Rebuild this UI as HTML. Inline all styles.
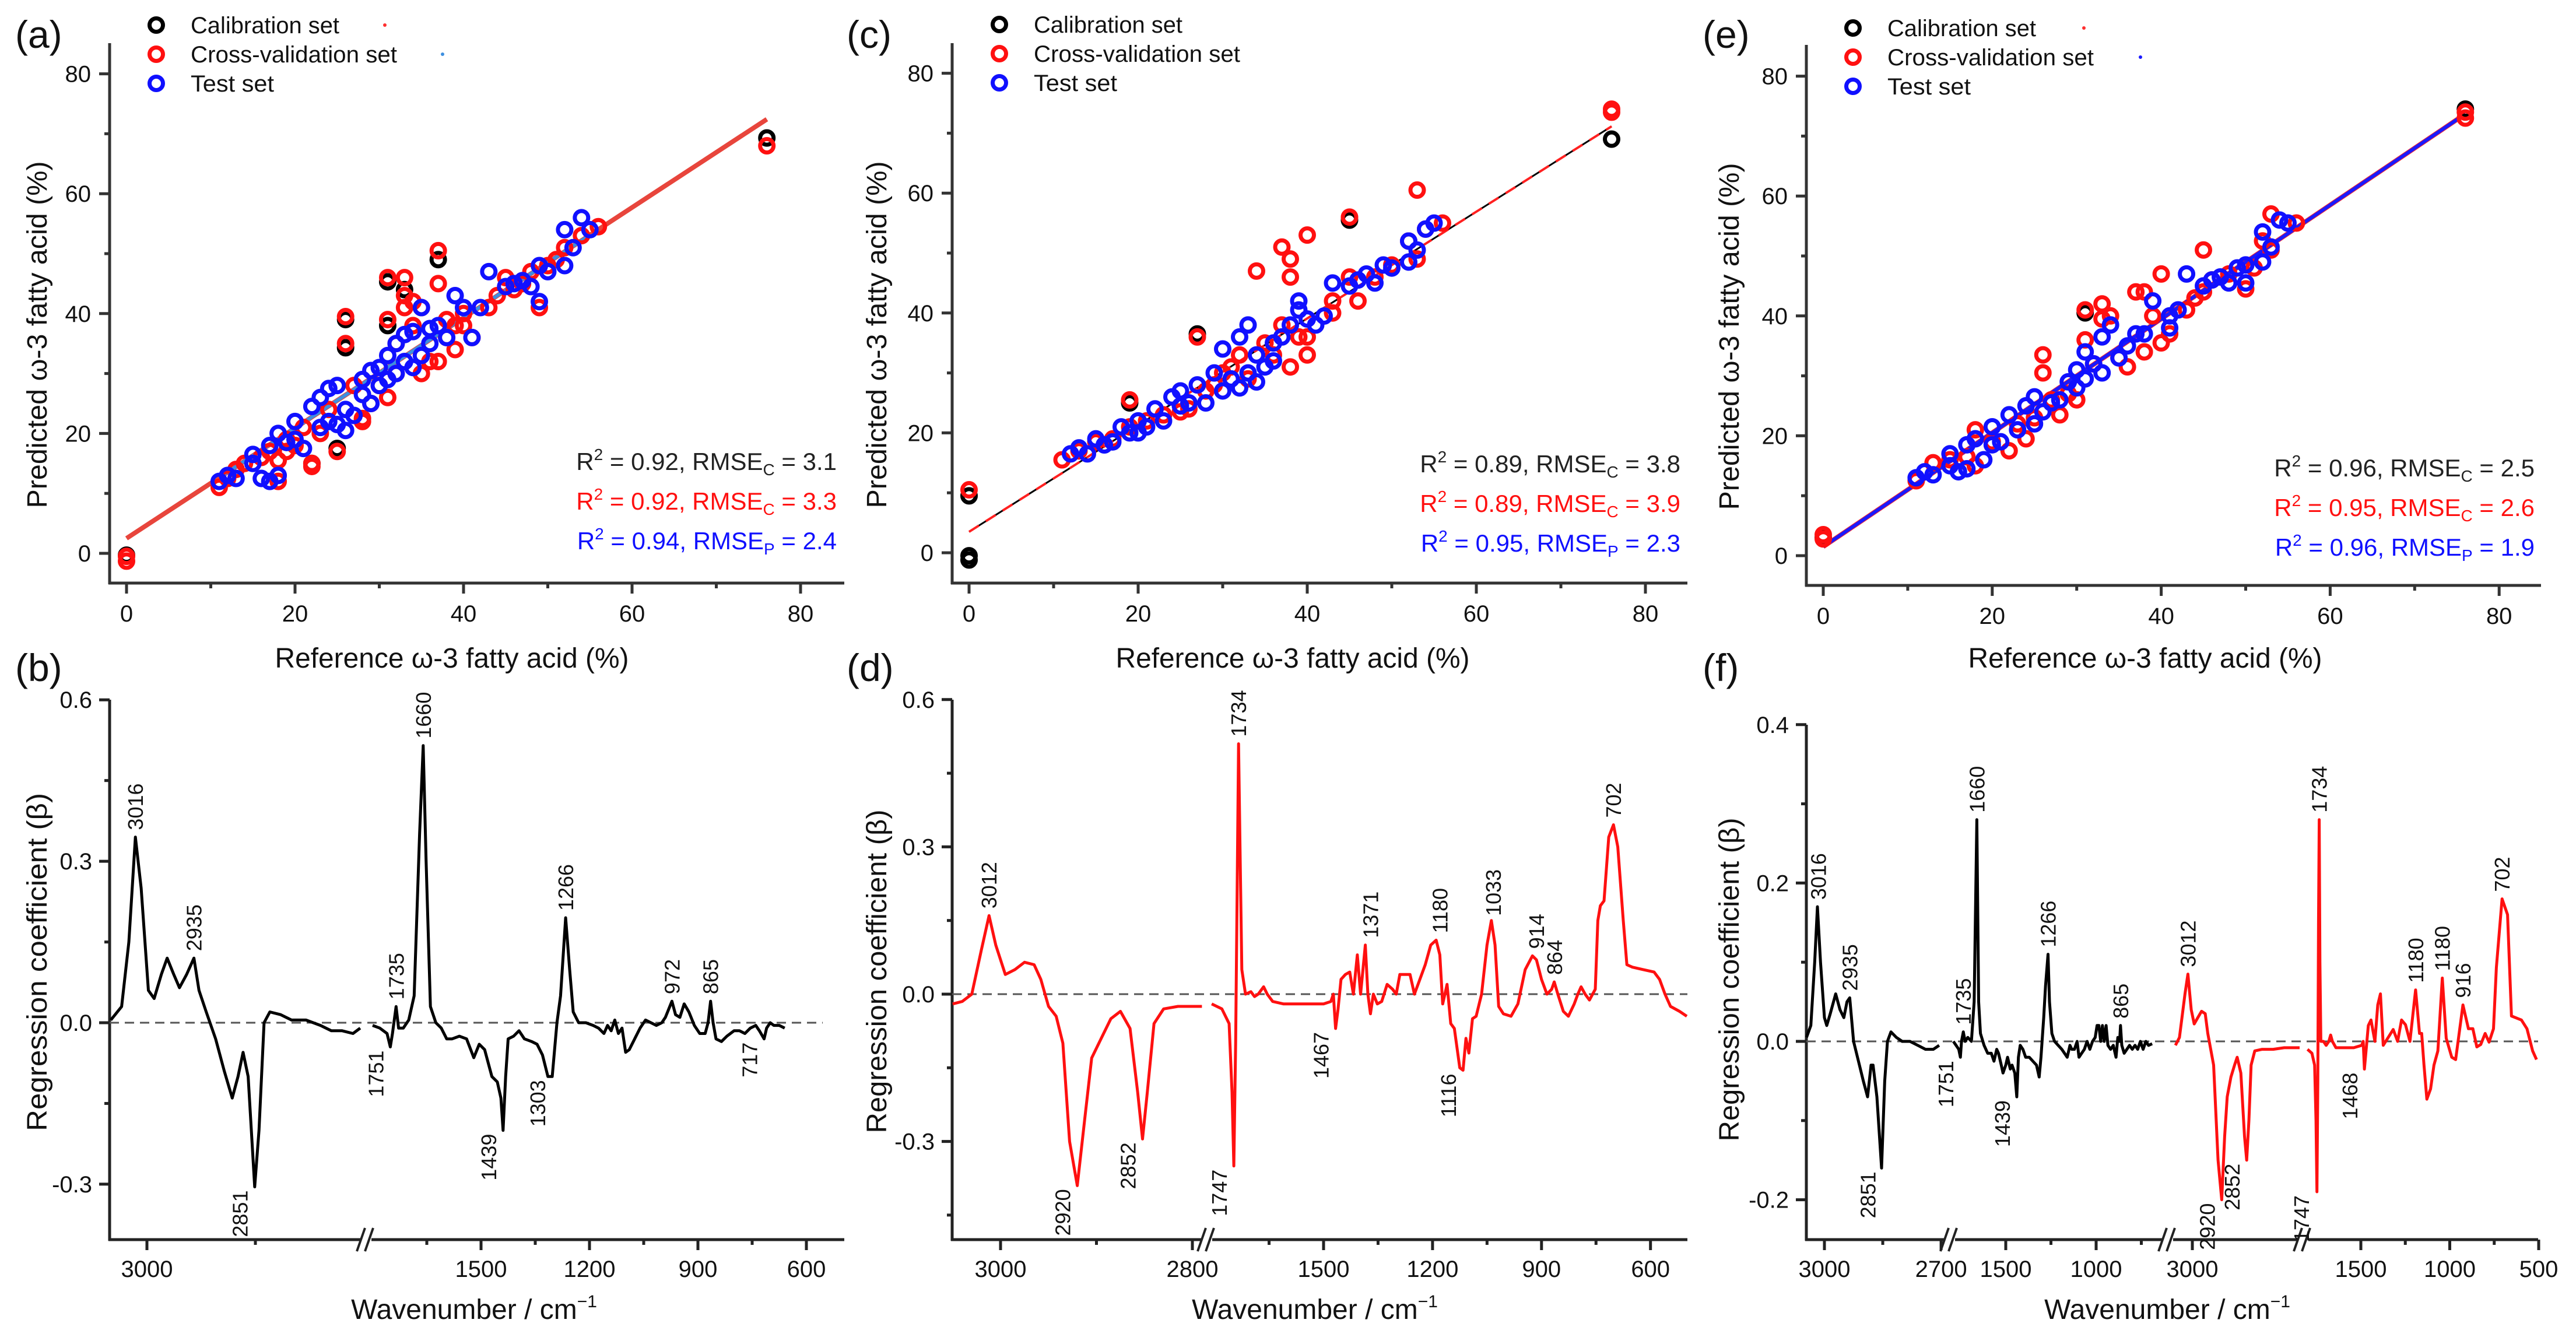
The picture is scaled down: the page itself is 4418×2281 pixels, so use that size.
<!DOCTYPE html>
<html><head><meta charset="utf-8"><style>
html,body{margin:0;padding:0;background:#fff;overflow:hidden;}
svg{display:block;font-family:"Liberation Sans",Arial,sans-serif;}
</style></head>
<body>
<svg id="chart" xmlns="http://www.w3.org/2000/svg" width="4418" height="2281" viewBox="0 0 4418 2281">
<rect x="0" y="0" width="4418" height="2281" fill="#fff"/>
</svg>
<script>
// ---------------- DATA ----------------
const aCal = [[0,-0.3],[22,15],[25,17.5],[26,34.3],[26,39],[31,45.3],[31,38],[33,44],[37,49],[76,69.3]];
const aCV = [[0,-0.5],[0,-1.3],[11,11],[12,12.5],[13,14],[14,15],[16,16],[17,17],[18,15.5],[18,12],[19,17],[19,19],[20,18],[21,21],[22,15],[22,14.5],[23,20],[24,24],[25,17],[26,35],[26,39.5],[27,28],[28,22],[28,22.5],[29,25],[30,28],[31,46],[31,39],[31,26],[32,30],[32,35],[33,43],[33,46],[33,41],[34,38],[34,42],[35,41],[35,30],[36,32],[37,45],[37,50.5],[37,32],[38,36],[38,39],[39,38],[39,34],[40,40],[40,38],[41,36],[43,41],[44,43],[45,46],[46,44],[47,45],[48,47],[49,41],[50,48],[51,49],[52,51],[54,53],[56,54.5],[76,68]];
const aTest = [[11,12],[12,13],[13,12.5],[15,16.5],[15,15],[16,12.5],[17,12],[17,18],[18,20],[18,13],[19,18.5],[20,22],[20,19],[21,17.5],[22,24.5],[23,21],[23,26],[24,27.5],[24,22],[25,28],[25,21.5],[26,20.5],[26,24],[27,23],[28,29],[28,26.5],[29,30.5],[29,25],[30,31],[30,28],[31,33],[31,29],[32,30],[32,35],[33,36.5],[33,32],[34,31],[34,37],[35,41],[35,33],[36,35],[36,37.5],[37,38],[38,36],[39,43],[40,41],[41,36],[42,41],[43,47],[45,44.5],[46,45],[47,45.5],[48,44.5],[49,42],[49,48],[50,47],[52,48],[52,54],[53,51],[54,56],[55,54]];
const aFit = [2.5, 0.92];
const cCal = [[0,-0.5],[0,-1.2],[0,9.5],[19,25],[27,36.5],[45,55.5],[76,69]];
const cCV = [[0,10.5],[11,15.5],[13,17],[15,18.5],[17,19],[19,25.5],[19,21],[21,22],[23,23],[25,23.5],[26,24],[27,36],[28,27],[29,28],[30,30],[31,31],[32,33],[33,29],[34,47],[35,35],[36,33],[37,51],[37,38],[38,49],[38,31],[38,46],[39,36],[40,53],[40,33],[40,36],[43,42],[43,40],[45,56],[45,46],[46,42],[48,46],[50,48],[52,52],[53,60.5],[53,49],[54,54],[56,55],[76,73.5],[76,74]];
const cTest = [[12,16.5],[13,17.5],[14,16.5],[15,19],[16,18],[17,18.5],[18,21],[19,20],[20,22],[20,20],[21,21],[22,24],[23,22],[24,26],[25,27],[25,24.5],[26,25],[27,28],[28,25],[29,30],[30,34],[30,27],[31,29],[32,36],[32,27.5],[33,38],[33,30],[34,33],[34,28.5],[35,31],[36,35],[36,32],[37,36],[38,38],[39,42],[39,40.5],[40,39],[41,38],[42,39.5],[43,45],[45,44.5],[46,45.5],[47,46.5],[48,45],[49,48],[50,47.5],[52,48.5],[52,52],[53,50.5],[54,54],[55,55]];
const cFit = [3.5, 0.89];
const eCal = [[0,3],[31,40.5],[76,74.5]];
const eCV = [[0,3.5],[0,2.8],[11,12.5],[13,15.5],[15,16],[17,16.5],[18,15],[18,21],[20,19],[22,17.5],[23,22],[24,19.5],[25,23],[26,33.5],[26,30.5],[27,26],[28,23.5],[29,27],[30,26],[31,41],[31,36],[32,32],[33,39.5],[33,42],[34,40],[35,33],[36,31.5],[37,44],[38,44],[38,34],[39,40],[40,47],[40,35.5],[41,37],[43,41],[44,43],[45,51],[45,44],[46,46],[48,47],[50,44.5],[51,48],[52,52.5],[53,57],[53,51],[56,55.5],[76,73],[76,74]];
const eTest = [[11,13],[12,14],[13,13.5],[15,17],[15,15],[16,14],[17,14.5],[17,18.5],[18,19.5],[19,16],[20,18.5],[20,21.5],[21,19],[22,23.5],[23,21],[24,25],[25,26.5],[25,22],[26,24],[27,25.5],[28,26],[29,29],[30,28],[30,31],[31,34],[31,29.5],[32,32],[33,36.5],[33,30.5],[34,38.5],[35,33],[36,35],[37,37],[38,37],[39,42.5],[41,38],[41,40],[42,41],[43,47],[45,45],[46,46],[47,46.5],[48,45.5],[49,48],[50,45.5],[50,48.5],[52,49],[52,54],[53,51.5],[54,56],[55,55.5]];
const eFit = [1.5, 0.95];
const scatterTicks = [0,20,40,60,80];

const bSeg1 = [[3050,0.005],[3035,0.03],[3025,0.15],[3016,0.345],[3008,0.25],[2998,0.06],[2990,0.045],[2980,0.09],[2972,0.12],[2963,0.09],[2955,0.065],[2945,0.09],[2935,0.12],[2928,0.06],[2918,0.02],[2905,-0.03],[2893,-0.09],[2882,-0.14],[2874,-0.1],[2867,-0.055],[2860,-0.1],[2851,-0.305],[2845,-0.2],[2838,0.0],[2830,0.02],[2815,0.015],[2800,0.005],[2780,0.005],[2760,-0.005],[2745,-0.015],[2730,-0.015],[2715,-0.02],[2705,-0.01]];
const bSeg2 = [[1800,-0.005],[1780,-0.01],[1760,-0.02],[1751,-0.045],[1745,-0.02],[1735,0.03],[1728,-0.01],[1715,-0.01],[1700,0.005],[1685,0.05],[1670,0.35],[1660,0.515],[1652,0.3],[1640,0.03],[1625,0.0],[1610,-0.01],[1595,-0.03],[1580,-0.03],[1560,-0.025],[1540,-0.03],[1520,-0.065],[1505,-0.04],[1490,-0.05],[1470,-0.1],[1455,-0.11],[1445,-0.14],[1439,-0.2],[1432,-0.1],[1425,-0.03],[1410,-0.025],[1395,-0.015],[1380,-0.03],[1360,-0.035],[1345,-0.04],[1330,-0.06],[1315,-0.1],[1303,-0.1],[1290,0.0],[1280,0.05],[1266,0.195],[1255,0.1],[1245,0.02],[1230,0.0],[1210,0.0],[1190,-0.005],[1175,-0.01],[1160,-0.02],[1150,-0.005],[1140,-0.015],[1130,0.005],[1120,-0.02],[1110,-0.01],[1100,-0.055],[1090,-0.05],[1075,-0.03],[1060,-0.01],[1045,0.005],[1030,0.0],[1015,-0.005],[1000,0.0],[990,0.01],[972,0.04],[962,0.015],[950,0.01],[938,0.035],[925,0.02],[910,-0.005],[895,-0.02],[880,-0.02],[872,0.0],[865,0.04],[858,0.0],[850,-0.03],[835,-0.035],[820,-0.025],[800,-0.015],[785,-0.015],[770,-0.02],[755,-0.01],[740,-0.005],[730,-0.015],[717,-0.03],[710,-0.01],[700,0.0],[690,-0.005],[675,-0.005],[660,-0.01]];
const dSeg1 = [[3050,-0.02],[3040,-0.015],[3030,0.0],[3020,0.09],[3012,0.16],[3005,0.1],[2995,0.04],[2985,0.05],[2975,0.065],[2965,0.06],[2958,0.03],[2950,-0.025],[2942,-0.045],[2935,-0.1],[2928,-0.3],[2920,-0.39],[2912,-0.25],[2905,-0.13],[2895,-0.09],[2885,-0.05],[2875,-0.035],[2865,-0.07],[2857,-0.2],[2852,-0.295],[2847,-0.2],[2840,-0.06],[2830,-0.03],[2815,-0.025],[2800,-0.025],[2790,-0.025]];
const dSeg2 = [[1808,-0.02],[1780,-0.03],[1760,-0.06],[1752,-0.2],[1747,-0.35],[1742,-0.1],[1738,0.2],[1734,0.51],[1730,0.3],[1725,0.05],[1715,0.0],[1700,0.005],[1690,-0.005],[1680,0.0],[1665,0.015],[1655,0.0],[1640,-0.015],[1610,-0.02],[1570,-0.02],[1530,-0.02],[1500,-0.02],[1480,-0.015],[1473,0.0],[1467,-0.07],[1460,-0.03],[1452,0.03],[1440,0.04],[1428,0.045],[1418,0.0],[1407,0.08],[1398,0.0],[1385,0.1],[1378,0.0],[1371,-0.04],[1363,0.0],[1352,-0.02],[1340,-0.015],[1325,0.02],[1310,0.01],[1300,0.0],[1290,0.04],[1275,0.04],[1262,0.04],[1250,0.0],[1240,0.02],[1220,0.06],[1205,0.1],[1190,0.11],[1180,0.08],[1172,-0.02],[1166,0.0],[1160,0.02],[1150,-0.06],[1140,-0.07],[1125,-0.15],[1116,-0.155],[1108,-0.09],[1100,-0.12],[1090,-0.05],[1080,-0.045],[1065,0.0],[1050,0.1],[1038,0.15],[1028,0.1],[1018,-0.025],[1005,-0.04],[984,-0.045],[965,-0.02],[945,0.05],[925,0.078],[914,0.07],[900,0.03],[885,0.0],[872,0.01],[865,0.025],[855,0.0],[840,-0.035],[826,-0.045],[810,-0.02],[800,0.0],[791,0.015],[780,0.0],[768,-0.012],[752,0.01],[745,0.15],[738,0.18],[728,0.19],[715,0.32],[702,0.345],[690,0.3],[675,0.15],[665,0.06],[650,0.055],[620,0.05],[590,0.045],[575,0.03],[560,0.0],[545,-0.025],[520,-0.035],[500,-0.045]];
const fSeg1 = [[3046,0.005],[3035,0.02],[3025,0.1],[3018,0.17],[3010,0.1],[3000,0.03],[2994,0.02],[2985,0.035],[2971,0.06],[2960,0.04],[2950,0.03],[2942,0.05],[2935,0.055],[2925,0.0],[2915,-0.02],[2900,-0.05],[2889,-0.07],[2880,-0.03],[2875,-0.03],[2865,-0.07],[2853,-0.16],[2845,-0.05],[2838,0.0],[2829,0.012],[2815,0.005],[2800,0.0],[2780,0.0],[2760,-0.005],[2740,-0.01],[2720,-0.01],[2705,-0.005]];
const fSeg2 = [[1790,0.0],[1775,-0.005],[1760,-0.01],[1751,-0.02],[1745,0.0],[1735,0.012],[1725,0.0],[1710,0.005],[1690,0.0],[1675,0.05],[1660,0.28],[1650,0.05],[1640,0.01],[1620,-0.005],[1600,-0.015],[1580,-0.015],[1565,-0.025],[1550,-0.01],[1540,-0.015],[1525,-0.03],[1515,-0.04],[1500,-0.03],[1490,-0.02],[1475,-0.035],[1465,-0.03],[1450,-0.04],[1439,-0.07],[1430,-0.02],[1420,-0.005],[1405,-0.01],[1390,-0.02],[1370,-0.02],[1350,-0.025],[1330,-0.03],[1315,-0.045],[1305,-0.02],[1290,0.03],[1280,0.07],[1266,0.11],[1258,0.05],[1245,0.01],[1230,0.0],[1210,-0.005],[1190,-0.01],[1175,-0.015],[1160,-0.02],[1145,-0.005],[1135,-0.01],[1120,-0.01],[1105,0.0],[1095,-0.02],[1080,-0.015],[1065,-0.01],[1050,0.0],[1035,-0.01],[1020,0.0],[1005,0.005],[995,0.02],[985,0.02],[975,0.0],[965,0.02],[955,0.0],[945,0.02],[935,-0.005],[920,-0.01],[905,-0.005],[890,-0.02],[880,0.005],[870,0.0],[865,0.02],[858,-0.005],[845,-0.015],[830,-0.01],[815,-0.005],[800,-0.01],[785,-0.005],[770,-0.01],[755,0.0],[740,-0.01],[725,0.0],[710,-0.005],[690,-0.003]];
const fSeg3 = [[3046,-0.005],[3035,0.005],[3020,0.06],[3012,0.085],[3003,0.04],[2995,0.022],[2985,0.03],[2975,0.038],[2965,0.035],[2958,0.01],[2950,-0.01],[2942,-0.03],[2930,-0.15],[2920,-0.2],[2912,-0.12],[2905,-0.07],[2895,-0.045],[2885,-0.03],[2878,-0.02],[2868,-0.04],[2858,-0.12],[2852,-0.15],[2846,-0.1],[2840,-0.03],[2830,-0.012],[2810,-0.01],[2780,-0.01],[2750,-0.008],[2720,-0.008],[2708,-0.008]];
const fSeg4 = [[1800,-0.01],[1775,-0.015],[1760,-0.03],[1752,-0.1],[1747,-0.19],[1742,-0.05],[1738,0.15],[1734,0.28],[1730,0.1],[1725,0.0],[1710,0.0],[1695,-0.005],[1680,0.0],[1670,0.008],[1660,0.0],[1640,-0.008],[1600,-0.008],[1540,-0.008],[1495,-0.005],[1487,0.0],[1480,-0.035],[1458,0.02],[1443,0.027],[1421,0.0],[1405,0.046],[1390,0.06],[1374,-0.005],[1349,0.004],[1318,0.015],[1293,0.0],[1271,0.027],[1249,0.021],[1224,0.0],[1192,0.065],[1170,0.01],[1158,0.01],[1145,-0.03],[1129,-0.073],[1108,-0.06],[1089,-0.03],[1067,-0.012],[1042,0.08],[1020,0.004],[989,-0.02],[967,-0.023],[926,0.046],[895,0.016],[870,0.016],[848,-0.007],[826,-0.004],[801,0.01],[779,-0.001],[754,0.016],[738,0.093],[706,0.18],[675,0.16],[653,0.032],[597,0.027],[566,0.016],[534,-0.012],[512,-0.023]];

const bPeaks = [[0,3016,0.345,'3016','up'],[0,2935,0.12,'2935','up'],[0,2851,-0.305,'2851','down'],[1,1751,-0.045,'1751','down'],[1,1735,0.03,'1735','up'],[1,1660,0.515,'1660','up'],[1,1439,-0.2,'1439','down'],[1,1303,-0.1,'1303','down'],[1,1266,0.195,'1266','up'],[1,972,0.04,'972','up'],[1,865,0.04,'865','up'],[1,717,-0.03,'717','down']];
const dPeaks = [[0,3012,0.16,'3012','up'],[0,2920,-0.39,'2920','down'],[0,2852,-0.295,'2852','down'],[1,1747,-0.35,'1747','down'],[1,1734,0.51,'1734','up'],[1,1467,-0.07,'1467','down'],[1,1371,0.1,'1371','up'],[1,1180,0.11,'1180','up'],[1,1116,-0.155,'1116','down'],[1,1033,0.145,'1033','up'],[1,914,0.078,'914','up'],[1,864,0.025,'864','up'],[1,702,0.345,'702','up']];
const fPeaks = [[0,3016,0.17,'3016','up'],[0,2935,0.055,'2935','up'],[0,2851,-0.16,'2851','down'],[1,1751,-0.02,'1751','down'],[1,1735,0.012,'1735','up'],[1,1660,0.28,'1660','up'],[1,1439,-0.07,'1439','down'],[1,1266,0.11,'1266','up'],[1,865,0.02,'865','up'],[2,3012,0.085,'3012','up'],[2,2920,-0.2,'2920','down'],[2,2852,-0.15,'2852','down'],[3,1752,-0.19,'1747','down'],[3,1734,0.28,'1734','up'],[3,1480,-0.035,'1468','down'],[3,1192,0.065,'1180','up'],[3,1042,0.08,'1180','up'],[3,926,0.046,'916','up'],[3,706,0.18,'702','up']];

// ---------------- DRAWING ----------------
const NS='http://www.w3.org/2000/svg';
const svg=document.getElementById('chart');
function mk(tag, attrs, name){
  const e=document.createElementNS(NS,tag);
  for(const k in attrs) e.setAttribute(k,attrs[k]);
  
  
  svg.appendChild(e);
  return e;
}
function line(x1,y1,x2,y2,w,c,name,extra){
  const a={x1:x1,y1:y1,x2:x2,y2:y2,stroke:c,'stroke-width':w};
  if(extra) for(const k in extra) a[k]=extra[k];
  return mk('line',a,name);
}
function text(x,y,s,size,name,opts){
  const a={x:x,y:y,'font-size':size,fill:(opts&&opts.fill)||'#111','text-anchor':(opts&&opts.anchor)||'start'};
  if(opts&&opts.len){a.textLength=opts.len;a.lengthAdjust='spacingAndGlyphs';}
  if(opts&&opts.rot) a.transform='rotate('+opts.rot+' '+x+' '+y+')';
  const t=mk('text',a,name);
  if(opts&&opts.html) t.innerHTML=s; else t.textContent=s;
  return t;
}

function scatterPanel(P){
  const xs=v=>P.x0+v*P.kx, ys=v=>P.y0-v*P.ky;
  line(P.L,P.T,P.L,P.B+2,5,'#333','y-axis-line');
  line(P.L-2,P.B,P.R,P.B,5,'#333','x-axis-line');
  for(let v=0;v<=80;v+=10){
    const major=v%20===0;
    line(xs(v),P.B,xs(v),P.B+(major?18:9),5,'#333','x-tick');
    line(P.L,ys(v),P.L-(major?18:9),ys(v),5,'#333','y-tick');
  }
  scatterTicks.forEach(v=>{
    text(xs(v),P.B+66,String(v),40,'x-tick-label',{anchor:'middle'});
    text(P.L-32,ys(v)+14,String(v),40,'y-tick-label',{anchor:'end'});
  });
  const f=P.fit;
  if(P.style==='a'){
    line(xs(0),ys(f[0]),xs(76),ys(f[0]+f[1]*76),8,'#e8453c','fit-line-calibration');
    line(xs(11),ys(f[0]+f[1]*11),xs(55),ys(f[0]+f[1]*55),6,'#3d8fe0','fit-line-test');
  } else if(P.style==='c'){
    line(xs(0),ys(f[0]),xs(76),ys(f[0]+f[1]*76),3,'#000','fit-line-calibration');
    line(xs(0),ys(f[0]),xs(76),ys(f[0]+f[1]*76),4,'#ff2020','fit-line-cv',{'stroke-dasharray':'20 14'});
  } else {
    line(xs(0),ys(f[0]),xs(76),ys(f[0]+f[1]*76),8,'#ff2020','fit-line-cv');
    line(xs(0),ys(f[0]),xs(76),ys(f[0]+f[1]*76),6,'#1a1aff','fit-line-test');
  }
  const draw=(arr,col,name)=>arr.forEach(p=>{
    mk('circle',{cx:xs(p[0]),cy:ys(p[1]),r:11.5,fill:'none',stroke:col,'stroke-width':7},name);
  });
  draw(P.cal,'#000','calibration-point');
  draw(P.cv,'#ff1010','cross-validation-point');
  draw(P.test,'#1010ff','test-point');
  const lg=[['Calibration set','#000'],['Cross-validation set','#ff1010'],['Test set','#1010ff']];
  const lens=[255,354,143];
  lg.forEach((l,i)=>{
    const y=P.legY+i*50;
    mk('circle',{cx:P.legX,cy:y,r:11.5,fill:'none',stroke:l[1],'stroke-width':7},'legend-marker');
    text(P.legX+59,y+14,l[0],40,'legend-label',{len:lens[i]});
  });
  if(P.dots){
    mk('circle',{cx:P.dots[0],cy:P.legY,r:3,fill:'#ff3030'},'legend-line-red');
    mk('circle',{cx:P.dots[1],cy:P.legY+50,r:3,fill:P.dots[2]},'legend-line-blue');
  }
  const cols=['#222','#ff1010','#1010ff'];
  P.stats.forEach((s,i)=>{
    text(P.statX,P.statY+i*68,'R<tspan dy="-17" font-size="28">2</tspan><tspan dy="17"> = '+s[0]+', RMSE</tspan><tspan dy="9" font-size="28">'+s[1]+'</tspan><tspan dy="-9"> = '+s[2]+'</tspan>',42,'stats-line',{anchor:'end',fill:cols[i],html:true});
  });
  text(P.xtX,1145,'Reference ω-3 fatty acid (%)',48,'x-axis-title',{anchor:'middle',len:607});
  text(P.ytX,P.ytY,'Predicted ω-3 fatty acid (%)',48,'y-axis-title',{anchor:'middle',len:595,rot:-90});
  text(P.letX,82,P.letter,66,'panel-label');
}
scatterPanel({x0:217,kx:14.45,y0:949,ky:10.28,L:188,R:1448,T:74,B:1000,fit:aFit,style:'a',cal:aCal,cv:aCV,test:aTest,legX:268,legY:43,dots:[660,759,'#3d8fe0'],stats:[['0.92','C','3.1'],['0.92','C','3.3'],['0.94','P','2.4']],statX:1435,statY:806,xtX:775,ytX:80,ytY:574,letX:26,letter:'(a)'});
scatterPanel({x0:1662,kx:14.5,y0:948,ky:10.28,L:1633,R:2894,T:74,B:1000,fit:cFit,style:'c',cal:cCal,cv:cCV,test:cTest,legX:1714,legY:42,dots:null,stats:[['0.89','C','3.8'],['0.89','C','3.9'],['0.95','P','2.3']],statX:2882,statY:810,xtX:2217,ytX:1520,ytY:574,letX:1452,letter:'(c)'});
scatterPanel({x0:3127,kx:14.49,y0:953,ky:10.28,L:3098,R:4358,T:77,B:1004,fit:eFit,style:'e',cal:eCal,cv:eCV,test:eTest,legX:3178,legY:48,dots:[3574,3671,'#1a1aff'],stats:[['0.96','C','2.5'],['0.95','C','2.6'],['0.96','P','1.9']],statX:4347,statY:817,xtX:3679,ytX:2982,ytY:577,letX:2920,letter:'(e)'});

function specPanel(P){
  const ys=v=>P.y0-v*P.ky;
  const segX=(si,wn)=>P.segs[si].px+(P.segs[si].ref-wn)*P.segs[si].k;
  line(P.L,P.T,P.L,P.B+2,5,'#222','y-axis-line');
  line(P.L-2,P.B,P.R,P.B,5,'#222','x-axis-line');
  P.yt.forEach(v=>{
    line(P.L,ys(v),P.L-18,ys(v),5,'#222','y-tick');
    text(P.L-30,ys(v)+14,(v===0?'0.0':String(v)),40,'y-tick-label',{anchor:'end'});
  });
  P.ym.forEach(v=>line(P.L,ys(v),P.L-9,ys(v),5,'#222','y-minor-tick'));
  P.xt.forEach(t=>{
    const x=segX(t[0],t[1]);
    line(x,P.B,x,P.B+18,5,'#222','x-tick');
    text(x,P.B+64,String(t[1]),40,'x-tick-label',{anchor:'middle'});
  });
  P.xm.forEach(t=>{const x=segX(t[0],t[1]);line(x,P.B,x,P.B+9,5,'#222','x-minor-tick');});
  P.breaks.forEach(bx=>{
    mk('rect',{x:bx-9,y:P.B-6,width:18,height:12,fill:'#fff'},'axis-break-gap');
    line(bx-16,P.B+20,bx-2,P.B-20,4,'#222','axis-break-mark');
    line(bx-2,P.B+20,bx+12,P.B-20,4,'#222','axis-break-mark');
  });
  line(P.L,ys(0),P.zeroR,ys(0),3,'#555','zero-line',{'stroke-dasharray':'16 10'});
  P.curves.forEach(c=>{
    const pts=c.data.map(p=>segX(c.seg,p[0]).toFixed(1)+','+ys(p[1]).toFixed(1)).join(' ');
    mk('polyline',{points:pts,fill:'none',stroke:c.color,'stroke-width':5,'stroke-linejoin':'round'},c.name);
  });
  P.peaks.forEach(p=>{
    const x=segX(p[0],p[1]), y=ys(p[2]);
    if(p[4]==='up') text(x+13,y-12,p[3],36,'peak-label',{rot:-90});
    else text(x-12,y+6,p[3],36,'peak-label',{anchor:'end',rot:-90});
  });
  text(P.xtX,2262,'Wavenumber / cm<tspan dy="-20" font-size="30">−1</tspan>',48,'x-axis-title',{anchor:'middle',html:true});
  text(P.ytX,P.ytY,'Regression coefficient (β)',48,'y-axis-title',{anchor:'middle',len:P.ytLen,rot:-90});
  text(P.letX,1168,P.letter,66,'panel-label');
}
specPanel({y0:1754,ky:923,L:188,R:1448,T:1200,B:2126,
  segs:[{ref:3000,px:252,k:1.24},{ref:1500,px:825,k:0.62}],
  yt:[0.6,0.3,0,-0.3],ym:[0.45,0.15,-0.15],
  xt:[[0,3000],[1,1500],[1,1200],[1,900],[1,600]],xm:[[0,2850],[1,1650],[1,1350],[1,1050],[1,750]],
  breaks:[628],zeroR:1411,
  curves:[{seg:0,data:bSeg1,color:'#000',name:'coefficient-curve-left'},{seg:1,data:bSeg2,color:'#000',name:'coefficient-curve-right'}],
  peaks:bPeaks,xtX:813,ytX:80,ytY:1650,ytLen:580,letX:26,letter:'(b)'});
specPanel({y0:1705,ky:842,L:1633,R:2894,T:1200,B:2126,
  segs:[{ref:3000,px:1716,k:1.645},{ref:1500,px:2270,k:0.623}],
  yt:[0.6,0.3,0,-0.3],ym:[0.45,0.15,-0.15,-0.45],
  xt:[[0,3000],[0,2800],[1,1500],[1,1200],[1,900],[1,600]],xm:[[0,2900],[1,1650],[1,1350],[1,1050],[1,750]],
  breaks:[2070],zeroR:2894,
  curves:[{seg:0,data:dSeg1,color:'#ff1010',name:'coefficient-curve-left'},{seg:1,data:dSeg2,color:'#ff1010',name:'coefficient-curve-right'}],
  peaks:dPeaks,xtX:2255,ytX:1520,ytY:1666,ytLen:555,letX:1452,letter:'(d)'});
specPanel({y0:1786,ky:1358,L:3098,R:4353,T:1243,B:2126,
  segs:[{ref:3000,px:3129,k:0.667},{ref:1500,px:3440,k:0.31},{ref:3000,px:3760,k:0.63},{ref:1500,px:4049,k:0.305}],
  yt:[0.4,0.2,0,-0.2],ym:[0.3,0.1,-0.1],
  xt:[[0,3000],[0,2700],[1,1500],[1,1000],[2,3000],[3,1500],[3,1000],[3,500]],xm:[[0,2850],[1,1250],[1,750],[3,1250],[3,750]],
  breaks:[3344,3718,3950],zeroR:4353,
  curves:[{seg:0,data:fSeg1,color:'#000',name:'black-curve-left'},{seg:1,data:fSeg2,color:'#000',name:'black-curve-right'},{seg:2,data:fSeg3,color:'#ff1010',name:'red-curve-left'},{seg:3,data:fSeg4,color:'#ff1010',name:'red-curve-right'}],
  peaks:fPeaks,xtX:3717,ytX:2982,ytY:1680,ytLen:555,letX:2920,letter:'(f)'});
</script>
</body></html>
